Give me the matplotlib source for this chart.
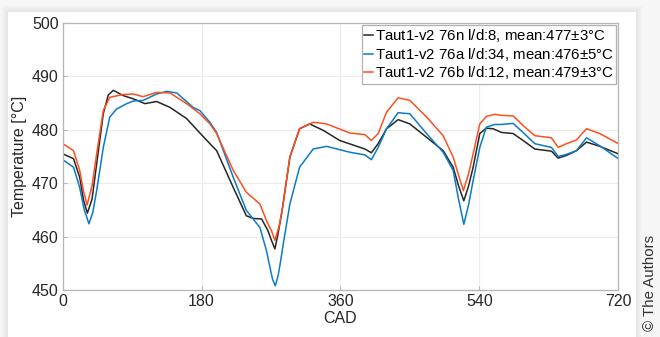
import matplotlib
matplotlib.use('Agg')
from matplotlib import pyplot as plt
from matplotlib.patches import Rectangle

# Temperature traces over one cycle (crank angle degrees) for three sensor positions

# Taut1-v2 76n (l/d:8)
cad_76n = [0, 14, 22, 27, 32, 38, 44, 52.6, 59, 65.5, 72, 78.5, 91.5, 106.6, 121.7, 139, 160.6,
           177.8, 190.8, 199.5, 221, 238, 247, 257.8, 266, 270.5, 275, 279, 283.7, 294.4, 307, 320,
           337.6, 359, 391.6, 400, 408.8, 419.7, 434.7, 449.9, 471.5, 493, 506, 513, 519.8, 526,
           531.9, 540.5, 549, 557.8, 568.7, 583.7, 596.6, 611.8, 633.4, 642, 652.8, 665.8,
           678.8, 696, 720]
t_76n = [475.5, 474.6, 471.1, 466.8, 464.4, 467.0, 473.6, 483.0, 486.5, 487.4, 486.9, 486.4, 485.8,
         484.9, 485.3, 484.2, 482.1, 479.4, 477.4, 476.1, 469.2, 463.9, 463.4, 463.3, 461.1, 459.3,
         457.7, 460.5, 464.3, 474.9, 480.2, 481.1, 479.9, 478.0, 476.4, 475.7, 477.4, 480.2, 481.9,
         481.1, 478.6, 476.1, 473.0, 469.5, 466.7, 469.5, 473.0, 479.3, 480.3, 480.2, 479.5, 479.3,
         478.0, 476.4, 476.0, 474.7, 475.2, 476.1, 477.7, 476.9, 475.5]

# Taut1-v2 76a (l/d:34)
cad_76a = [0, 14, 22, 28, 34, 39, 44, 52.6, 61, 70, 83, 91.5, 104, 121.7, 134.7, 147.8, 169,
           177.8, 190.8, 199.5, 221, 238, 255.6, 264, 268.5, 272, 275.5, 279, 281.5, 285.7, 294.4,
           307, 324.6, 342, 372, 391.6, 400, 408.8, 419.7, 434.7, 449.9, 471.5, 493, 506, 513,
           519.8, 526, 531.9, 540.5, 549, 560, 568.7, 583.7, 596.6, 611.8, 633.4, 642, 652.8,
           665.8, 678.8, 696, 720]
t_76a = [474.4, 473.0, 469.2, 465.0, 462.4, 464.5, 468.6, 476.7, 482.4, 483.9, 484.9, 485.4, 485.5,
         486.7, 487.2, 486.9, 484.2, 483.6, 481.4, 479.5, 471.1, 464.9, 461.7, 457.4, 454.3, 452.0,
         450.8, 452.6, 454.6, 458.5, 466.1, 473.0, 476.4, 476.9, 475.8, 475.3, 474.4, 476.7, 480.2,
         483.2, 483.0, 479.3, 475.8, 472.4, 467.0, 462.3, 466.0, 470.5, 476.7, 480.5, 481.0, 481.0,
         481.2, 479.5, 477.4, 476.7, 475.0, 475.4, 476.1, 478.5, 477.0, 474.6]

# Taut1-v2 76b (l/d:12)
cad_76b = [0, 14, 22, 27, 31.6, 38, 44, 52.6, 61, 78.5, 91.5, 104, 121.7, 139, 160.6, 177.8,
           190.8, 199.5, 221, 238, 255.6, 264, 270.8, 275, 280.5, 285.7, 294.4, 307, 324.6, 342,
           372, 391.6, 400, 408.8, 419.7, 434.7, 449.9, 471.5, 493, 506, 513, 519.2, 526, 531.9,
           540.5, 549, 560, 568.7, 583.7, 596.6, 611.8, 633.4, 642, 652.8, 665.8, 678.8, 696, 720]
t_76b = [477.4, 476.1, 472.4, 468.5, 465.9, 469.5, 475.5, 483.6, 486.1, 486.6, 486.7, 486.2, 487.0,
         486.9, 484.9, 483.0, 481.1, 479.3, 472.4, 468.3, 466.1, 463.0, 461.0, 459.3, 462.0, 466.1,
         474.9, 480.2, 481.4, 481.1, 479.4, 479.1, 478.0, 479.3, 483.3, 486.0, 485.5, 482.4, 478.9,
         474.9, 471.5, 468.6, 471.8, 475.5, 481.1, 482.5, 482.9, 482.7, 482.6, 480.8, 478.9, 478.5,
         476.7, 477.4, 478.1, 480.2, 479.3, 477.4]

labels_series = ['Taut1-v2 76n l/d:8, mean:477$\\pm$3°C',
                 'Taut1-v2 76a l/d:34, mean:476$\\pm$5°C',
                 'Taut1-v2 76b l/d:12, mean:479$\\pm$3°C']
colors_series = ['#262626', '#0a7bc8', '#ff4f1f']

xticks = [0, 180, 360, 540, 720]
yticks = [450, 460, 470, 480, 490, 500]

plt.rcParams['font.family'] = ['Liberation Sans', 'DejaVu Sans']
plt.rcParams['mathtext.fontset'] = 'custom'
plt.rcParams['mathtext.rm'] = 'Liberation Sans'

fig = plt.figure(figsize=(6.6, 3.37), dpi=100, facecolor='#f6f6f6')

# card with a soft shadow behind the plot
for pad, shade in [(6, '#f1f1f1'), (4, '#ececec'), (2, '#e6e6e6')]:
    fig.patches.append(Rectangle(((8 - pad) / 660, 0), (628 + 2 * pad) / 660, (325 + pad) / 337,
                                 transform=fig.transFigure, facecolor=shade, edgecolor='none', zorder=-10))
fig.patches.append(Rectangle((8 / 660, 0), 628 / 660, 325 / 337, transform=fig.transFigure,
                             facecolor='white', edgecolor='none', zorder=-10))

ax = fig.add_axes([62.7 / 660, 1 - 290 / 337, (618.3 - 62.7) / 660, (290 - 23) / 337])
ax.set_zorder(1)
ax.set_facecolor('white')

for cad, temp, color, label in zip([cad_76n, cad_76a, cad_76b], [t_76n, t_76a, t_76b],
                                   colors_series, labels_series):
    ax.plot(cad, temp, color=color, linewidth=1.1, label=label)

ax.set_xlim(0, 720)
ax.set_ylim(450, 500)
ax.set_xticks(xticks)
ax.set_yticks(yticks)
ax.grid(True, color='#ececec', linewidth=0.8)
ax.set_axisbelow(True)
ax.tick_params(direction='in', length=3, color='#b5b5b5', labelsize=11.5, labelcolor='#262626', pad=3)
for spine in ax.spines.values():
    spine.set_color('#b5b5b5')
    spine.set_linewidth(0.9)

ax.set_xlabel('CAD', fontsize=11.5, color='#262626', labelpad=1)
ax.set_ylabel('Temperature [°C]', fontsize=11.5, color='#262626', labelpad=3)

leg = ax.legend(loc='upper right', fontsize=10.8, handlelength=0.6, handletextpad=0.1,
                borderpad=0.15, labelspacing=0.1, borderaxespad=0.15, fancybox=False,
                framealpha=1, edgecolor='#b0b0b0')
leg.get_frame().set_linewidth(0.9)

fig.text(650 / 660, 1 - 331 / 337, '© The Authors', rotation=90, fontsize=10.8,
         color='#333333', ha='center', va='bottom')

fig.savefig('out.png', dpi=100, facecolor=fig.get_facecolor())
